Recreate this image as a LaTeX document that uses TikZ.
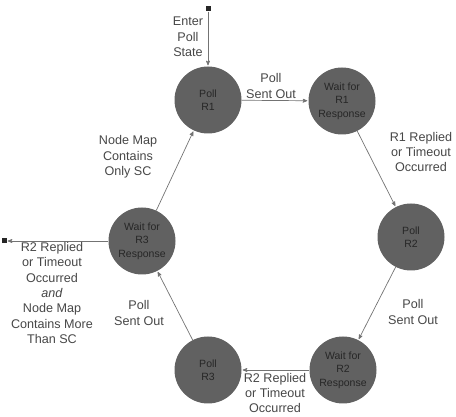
\documentclass[tikz,border=0pt]{standalone}
\usepackage{fontspec}
\setmainfont{Liberation Sans}
\usetikzlibrary{arrows,automata}
\tikzset{
  poll/.style={state,draw=none,fill=black!62,text=black!85,minimum size=67pt,inner sep=0pt,align=center,font=\fontsize{10.5}{13.5}\selectfont},
  txt/.style={align=center,text=black!72,font=\fontsize{12.6}{15.3}\selectfont},
  term/.style={rectangle,fill=black!85,minimum size=5pt,inner sep=0pt},
  trans/.style={->,draw=black!55,line width=0.7pt}
}

\begin{document}
\begin{tikzpicture}[x=1pt,y=-1pt,shorten >=1pt,>=stealth']
  \useasboundingbox (0,0) rectangle (456,417);
  % states round the ring
  \node[poll] (p1) at (208,100) {Poll\\R1};
  \node[poll] (w1) at (342,101) {Wait for\\R1\\Response};
  \node[poll] (p2) at (411,237) {Poll\\R2};
  \node[poll] (w2) at (343,370) {Wait for\\R2\\Response};
  \node[poll] (p3) at (208,370) {Poll\\R3};
  \node[poll] (w3) at (142,241) {Wait for\\R3\\Response};
  % entry and exit
  \node[term] (in) at (208,9) {};
  \node[term] (out) at (4,241) {};
  \draw[trans] (in) -- (p1);
  \draw[trans] (w3) -- (out);
  % transitions
  \draw[trans] (p1) -- (w1);
  \draw[trans] (w1) -- (p2);
  \draw[trans] (p2) -- (w2);
  \draw[trans] (w2) -- (p3);
  \draw[trans] (p3) -- (w3);
  \draw[trans] (w3) -- (p1);
  % labels
  \node[txt] (l0) at (188,37) {Enter\\Poll\\State};
  \node[txt] (l1) at (271,86) {Poll\\Sent Out};
  \node[txt] (l2) at (421,152) {R1 Replied\\or Timeout\\Occurred};
  \node[txt] (l3) at (413,312) {Poll\\Sent Out};
  \node[txt,font=\fontsize{12.6}{14.6}\selectfont] (l4) at (275,393) {R2 Replied\\or Timeout\\Occurred};
  \node[txt] (l5) at (139,313) {Poll\\Sent Out};
  \node[txt] (l6) at (128,157) {Node Map\\Contains\\Only SC};
  \node[txt] (l7) at (52,293) {R2 Replied\\or Timeout\\Occurred\\\textit{and}\\Node Map\\Contains More\\Than SC};
\end{tikzpicture}
\end{document}
